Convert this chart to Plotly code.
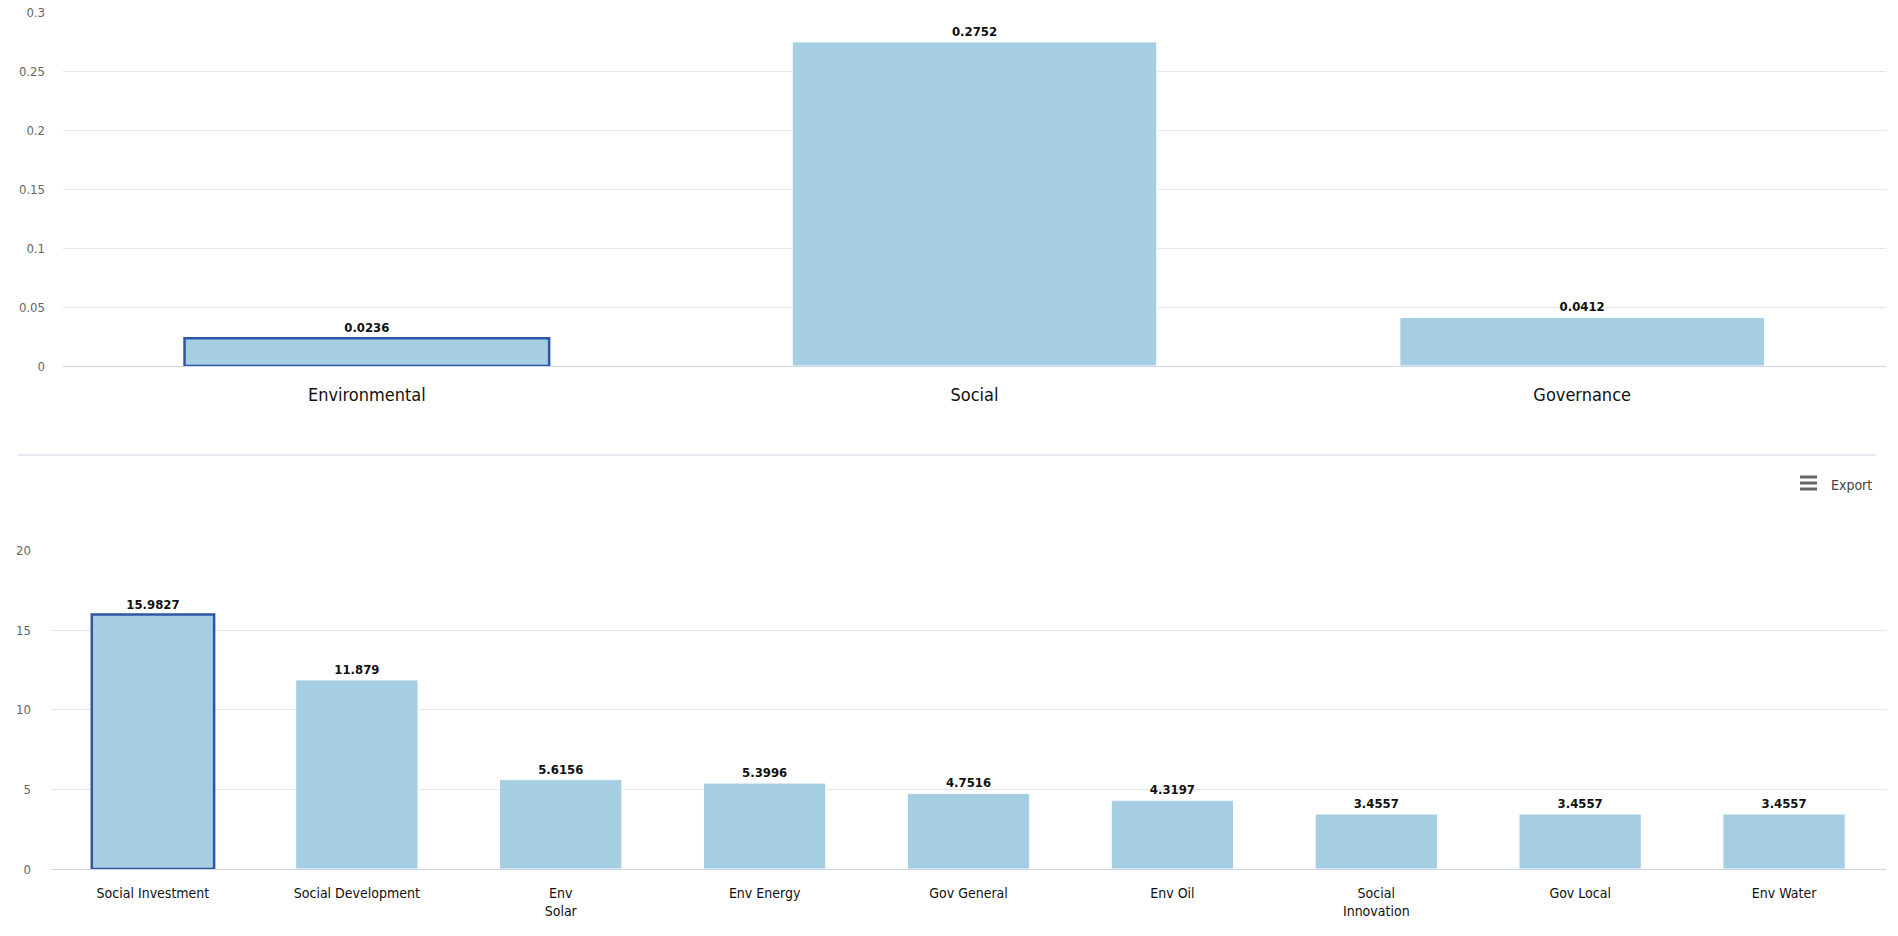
import plotly.graph_objects as go

W, H = 1898, 936

# ---- data ----
pillar_categories = ["Environmental", "Social", "Governance"]
pillar_values = [0.0236, 0.2752, 0.0412]

topic_categories = ["Social Investment", "Social Development", "Env<br>Solar", "Env Energy",
                    "Gov General", "Env Oil", "Social<br>Innovation", "Gov Local", "Env Water"]
topic_values = [15.9827, 11.879, 5.6156, 5.3996, 4.7516, 4.3197, 3.4557, 3.4557, 3.4557]

top_ticks = [0, 0.05, 0.1, 0.15, 0.2, 0.25, 0.3]
top_ticktext = ["0", "0.05", "0.1", "0.15", "0.2", "0.25", "0.3"]
bottom_ticks = [0, 5, 10, 15, 20]

BAR = "#a6cee3"
HOVER = "#2f55a4"
FONT = "Liberation Sans Narrow, DejaVu Sans Condensed, sans-serif"


def px_x(p):
    return p / W


def px_y(p):
    return 1 - p / H


def line_colors(n, hi=0):
    return [HOVER if i == hi else "#ffffff" for i in range(n)]


def line_widths(n, hi=0):
    return [2.5 if i == hi else 1 for i in range(n)]


fig = go.Figure()

fig.add_trace(go.Bar(
    x=pillar_categories, y=pillar_values, xaxis="x", yaxis="y",
    marker=dict(color=BAR, line=dict(color=line_colors(3), width=line_widths(3))),
    width=0.6,
    text=[str(v) for v in pillar_values], textposition="outside",
    textfont=dict(family=FONT, size=13, color="#111111", weight="bold"),
    cliponaxis=False, showlegend=False,
))

fig.add_trace(go.Bar(
    x=topic_categories, y=topic_values, xaxis="x2", yaxis="y2",
    marker=dict(color=BAR, line=dict(color=line_colors(9), width=line_widths(9))),
    width=0.6,
    text=[str(v) for v in topic_values], textposition="outside",
    textfont=dict(family=FONT, size=13, color="#111111", weight="bold"),
    cliponaxis=False, showlegend=False,
))

fig.update_layout(
    width=W, height=H,
    margin=dict(l=0, r=0, t=0, b=0, autoexpand=False),
    paper_bgcolor="white", plot_bgcolor="white",
    font=dict(family=FONT),
    hovermode=False,
    xaxis=dict(domain=[px_x(63), px_x(1886)], anchor="y", type="category",
               showgrid=False, showline=True, linecolor="#ccd6eb", linewidth=1,
               ticks="", tickfont=dict(size=18, color="#111111", family=FONT),
               ticklabelstandoff=12, fixedrange=True, automargin=False),
    yaxis=dict(domain=[px_y(366), px_y(12)], anchor="x", range=[0, 0.3 * 1.002],
               tickvals=top_ticks, ticktext=top_ticktext,
               showgrid=True, gridcolor="#e6e6e6", gridwidth=1,
               tickfont=dict(size=13, color="#666666", family=FONT),
               ticklabelstandoff=17, ticklabeloverflow="allow",
               zeroline=False, fixedrange=True, automargin=False),
    xaxis2=dict(domain=[px_x(51), px_x(1886)], anchor="y2", type="category",
                showgrid=False, showline=True, linecolor="#ccd6eb", linewidth=1,
                ticks="", tickfont=dict(size=14, color="#111111", family=FONT),
                ticklabelstandoff=11, fixedrange=True, automargin=False),
    yaxis2=dict(domain=[px_y(869), px_y(550)], anchor="x2", range=[0, 20 * 1.002],
                tickvals=bottom_ticks,
                showgrid=True, gridcolor="#e6e6e6", gridwidth=1,
                tickfont=dict(size=13, color="#666666", family=FONT),
                ticklabelstandoff=19, ticklabeloverflow="allow",
                zeroline=False, fixedrange=True, automargin=False),
)

# separator line between charts
fig.add_shape(type="line", xref="paper", yref="paper",
              x0=px_x(18), x1=px_x(1876), y0=px_y(455), y1=px_y(455),
              line=dict(color="#ccd6eb", width=1))

# export button (hamburger icon + text)
for yy in (477, 483, 489):
    fig.add_shape(type="line", xref="paper", yref="paper",
                  x0=px_x(1800), x1=px_x(1817), y0=px_y(yy), y1=px_y(yy),
                  line=dict(color="#666666", width=3))
fig.add_annotation(text="Export", xref="paper", yref="paper",
                   x=px_x(1829), y=px_y(485), xanchor="left", yanchor="middle",
                   showarrow=False, font=dict(family=FONT, size=14, color="#444444"))

# remove the browser's default page margin so the figure fills the window exactly
fig.write_html("out.html",
               config={"displayModeBar": False},
               post_script="document.body.style.margin='0';document.body.style.overflow='hidden';")
